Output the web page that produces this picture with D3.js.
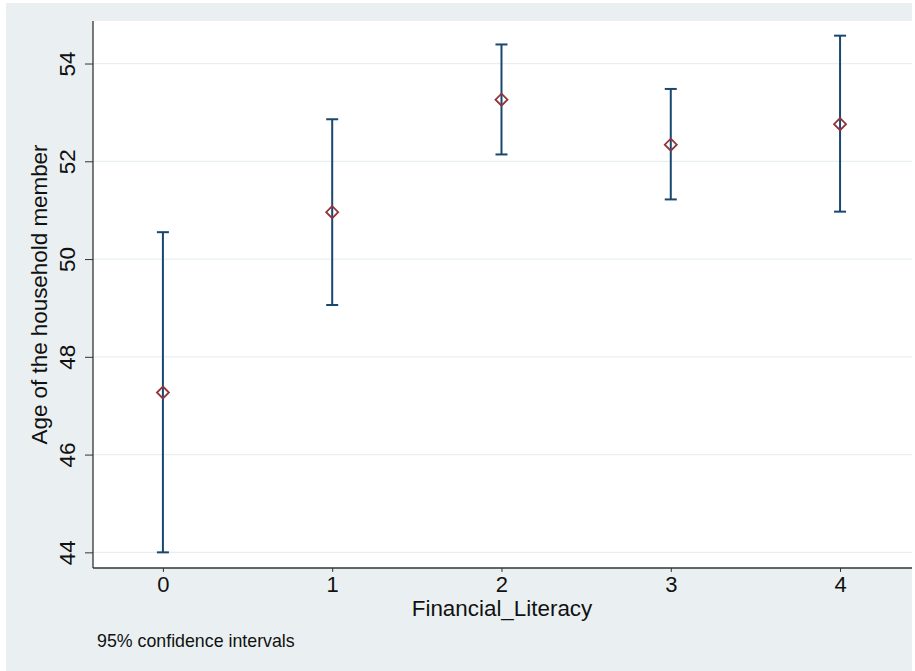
<!DOCTYPE html>
<html>
<head>
<meta charset="utf-8">
<script src="https://cdn.jsdelivr.net/npm/d3@7"></script>
<style>
  html, body { margin: 0; padding: 0; background: #ffffff; }
  svg { display: block; }
  text { font-family: "Liberation Sans", Arial, Helvetica, sans-serif; fill: #111; }
</style>
</head>
<body>
<svg id="chart" width="915" height="671"></svg>
<script>
// Financial literacy score levels and age estimates with 95% CIs
const categories = [0, 1, 2, 3, 4];
const means      = [47.27, 50.96, 53.26, 52.34, 52.76];
const lowerCI    = [44.00, 49.06, 52.14, 51.22, 50.97];
const upperCI    = [50.55, 52.86, 54.39, 53.48, 54.57];
const yTicks     = [44, 46, 48, 50, 52, 54];

const svg = d3.select("#chart");
const FONT = "'Liberation Sans', Arial, Helvetica, sans-serif";

// outer graph region
svg.append("rect").attr("x", 6).attr("y", 3).attr("width", 906).attr("height", 668)
  .attr("fill", "#eaf0f2");

const plot = { left: 93, right: 912, top: 21, bottom: 568 };

svg.append("rect").attr("x", plot.left).attr("y", plot.top)
  .attr("width", plot.right - plot.left).attr("height", plot.bottom - plot.top)
  .attr("fill", "#ffffff");

const x = d3.scaleLinear().domain([-0.413, 4.425]).range([plot.left, plot.right]);
const y = d3.scaleLinear().domain([43.68, 54.87]).range([plot.bottom, plot.top]);

// horizontal gridlines
svg.append("g").selectAll("line").data(yTicks).join("line")
  .attr("x1", plot.left).attr("x2", plot.right)
  .attr("y1", d => y(d)).attr("y2", d => y(d))
  .attr("stroke", "#e8eff2").attr("stroke-width", 1.2);

// y axis
const yAxis = svg.append("g").attr("transform", `translate(${plot.left},0)`)
  .call(d3.axisLeft(y).tickValues(yTicks).tickSize(8).tickPadding(0).tickFormat(d3.format("d")));
yAxis.attr("font-size", null).attr("font-family", null);
yAxis.select(".domain").attr("stroke", "#333").attr("stroke-width", 1.3)
  .attr("d", `M0,${plot.top}V${plot.bottom}`);
yAxis.selectAll(".tick line").attr("stroke", "#333").attr("stroke-width", 1);
yAxis.selectAll(".tick text")
  .attr("x", 0).attr("y", 0).attr("dy", 0)
  .attr("transform", "translate(-26,0) rotate(-90)")
  .attr("text-anchor", "middle")
  .attr("dominant-baseline", "central")
  .style("font-size", "22.5px").style("fill", "#111")
  .style("font-family", FONT);

// x axis
const xAxis = svg.append("g").attr("transform", `translate(0,${plot.bottom})`)
  .call(d3.axisBottom(x).tickValues(categories).tickSize(4).tickPadding(4).tickFormat(d3.format("d")));
xAxis.attr("font-size", null).attr("font-family", null);
xAxis.select(".domain").attr("stroke", "#333").attr("stroke-width", 1.3)
  .attr("d", `M${plot.left},0H${plot.right}`);
xAxis.selectAll(".tick line").attr("stroke", "#333").attr("stroke-width", 1);
xAxis.selectAll(".tick text")
  .style("font-size", "22px").style("fill", "#111")
  .style("font-family", FONT);

// axis titles
svg.append("text")
  .attr("x", 502).attr("y", 616)
  .attr("text-anchor", "middle").style("font-size", "22.4px")
  .text("Financial_Literacy");

svg.append("text")
  .attr("transform", `translate(47,${(plot.top + plot.bottom) / 2}) rotate(-90)`)
  .attr("text-anchor", "middle").style("font-size", "22.4px")
  .text("Age of the household member");

// note
svg.append("text")
  .attr("x", 97).attr("y", 647)
  .style("font-size", "17.8px")
  .text("95% confidence intervals");

// confidence interval spikes with caps
const ciColor = "#1a476f";
const capHalf = 6;
const ci = svg.append("g");
categories.forEach((c, i) => {
  const g = ci.append("g");
  g.append("line")
    .attr("x1", x(c)).attr("x2", x(c))
    .attr("y1", y(lowerCI[i])).attr("y2", y(upperCI[i]))
    .attr("stroke", ciColor).attr("stroke-width", 2);
  [lowerCI[i], upperCI[i]].forEach(v => {
    g.append("line")
      .attr("x1", x(c) - capHalf).attr("x2", x(c) + capHalf)
      .attr("y1", y(v)).attr("y2", y(v))
      .attr("stroke", ciColor).attr("stroke-width", 2);
  });
});

// hollow diamond markers at the means
const r = 6;
svg.append("g").selectAll("path").data(categories).join("path")
  .attr("d", (c, i) => {
    const cx = x(c), cy = y(means[i]);
    return `M${cx},${cy - r}L${cx + r},${cy}L${cx},${cy + r}L${cx - r},${cy}Z`;
  })
  .attr("fill", "none")
  .attr("stroke", "#90353b")
  .attr("stroke-width", 1.8);
</script>
</body>
</html>
